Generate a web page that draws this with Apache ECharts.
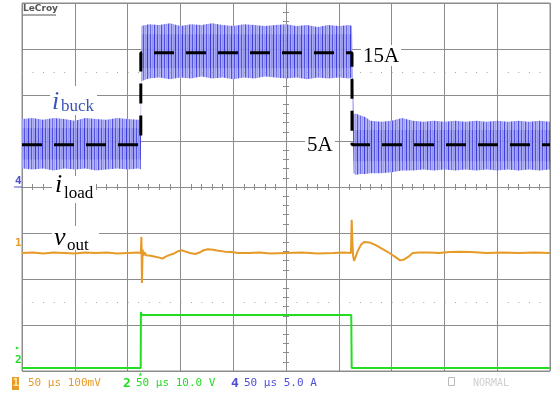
<!DOCTYPE html>
<html>
<head>
<meta charset="utf-8">
<script src="https://cdn.jsdelivr.net/npm/echarts@6/dist/echarts.min.js"></script>
<style>
  html, body { margin: 0; padding: 0; background: #fff; }
  #chart { width: 552px; height: 394px; }
</style>
</head>
<body>
<div id="chart"></div>
<script>
// time in µs relative to screen centre (50 µs/div)

// ch4 i_buck ripple envelope, A
const blueT = [-250, -240, -230, -220, -210, -200, -190, -180, -170, -160, -150, -140, -137.5,
  -137, -130, -120, -110, -100, -90, -80, -70, -60, -50, -40, -30, -20, -10, 0, 10, 20, 30, 40, 50, 60, 62.5,
  64, 66, 70, 75, 80, 90, 100, 110, 120, 130, 140, 150, 160, 170, 180, 190, 200, 210, 220, 230, 240, 250];
const blueHi = [7.8, 7.9, 7.7, 7.9, 7.8, 7.6, 7.9, 7.8, 7.7, 7.9, 7.8, 7.7, 7.8,
  17.9, 18.1, 18.0, 18.2, 17.9, 18.1, 18.0, 18.2, 18.0, 17.9, 18.1, 18.0, 17.9, 18.0, 18.1, 17.9, 18.0, 17.8, 18.0, 17.9, 18.0, 17.9,
  8.3, 8.4, 8.2, 8.0, 7.6, 7.5, 7.6, 7.9, 7.6, 7.5, 7.6, 7.5, 7.6, 7.5, 7.6, 7.5, 7.6, 7.5, 7.6, 7.5, 7.6, 7.5];
const blueLo = [2.4, 2.3, 2.4, 2.2, 2.4, 2.3, 2.4, 2.2, 2.3, 2.4, 2.3, 2.4, 2.3,
  11.9, 12.2, 12.3, 12.1, 12.3, 12.2, 12.4, 12.2, 12.3, 12.1, 12.3, 12.2, 12.4, 12.3, 12.2, 12.3, 12.1, 12.3, 12.2, 12.3, 12.2, 12.3,
  1.9, 1.7, 1.8, 1.8, 1.9, 1.9, 2.0, 2.2, 2.2, 2.3, 2.2, 2.3, 2.2, 2.3, 2.2, 2.3, 2.2, 2.3, 2.2, 2.3, 2.2, 2.3];
// denser middle of the ripple band, A
const coreT = [-250, -137.5, -137, 62.5, 64, 250];
const coreHi = [6.8, 6.8, 17.0, 17.0, 6.6, 6.6];
const coreLo = [3.4, 3.4, 13.3, 13.3, 3.2, 3.2];

// dashed reference (5A / 15A)
const refT = [-250, -137.5, -137.5, 62.5, 62.5, 250];
const refA = [5, 5, 15, 15, 5, 5];

// ch1 v_out, mV around the set point
const voutT = [-250, -240, -230, -220, -210, -200, -190, -180, -170, -160, -150, -140, -137.5,
  -136.9, -136.4, -135.8, -135, -134, -132.5, -131, -128, -124, -120, -117, -114, -110, -106, -102, -99,
  -95, -91, -86, -82, -78, -74, -69, -64, -58, -52, -45, -35, -25, -15, 0, 15, 30, 45, 55, 61.5,
  62.2, 62.8, 63.5, 64.4, 66, 68, 71, 74, 79, 85, 92, 98, 103, 108, 112, 116, 120, 126,
  135, 145, 155, 165, 175, 190, 205, 220, 235, 250];
const voutMV = [0, 1, -1, 1, 0, -1, 1, 0, 1, -1, 0, 1, 0,
  35, -65, 8, -6, 2, -5, -2, -6, -8, -10, -12, -8, -4, -1, 4, 6,
  3, 0, -2, 1, 6, 8, 7, 5, 3, 2, 0, 0, 1, -1, 0, 1, -1, 0, 1, 0,
  72, 30, -5, -17, -8, 5, 18, 24, 23, 17, 8, 0, -8, -16, -14, -8, 0, 1,
  1, 0, 2, 3, 2, 0, 1, 0, 1, 0];

// ch2 gate drive, V
const gateT = [-250, -137.6, -137.4, -136.8, -135.5, 61.8, 62.2, 250];
const gateV = [0, 0, 12.2, 11.5, 11.5, 11.5, 0, 0];

const pairs = (t, v) => t.map((x, i) => [x, v[i]]);

function stripes(cols) {
  const c = document.createElement('canvas');
  c.width = cols.length;
  c.height = 2;
  const g = c.getContext('2d');
  cols.forEach((col, i) => { g.fillStyle = col; g.fillRect(i, 0, 1, 2); });
  return c;
}
const outerFill = stripes(['rgba(70,70,228,0.95)', 'rgba(160,160,242,0.9)', 'rgba(175,175,246,0.9)',
  'rgba(100,100,234,0.95)', 'rgba(168,168,245,0.9)', 'rgba(150,150,240,0.9)', 'rgba(178,178,247,0.9)']);
const coreFill = stripes(['rgba(40,40,210,0.45)', 'rgba(40,40,210,0.05)', 'rgba(40,40,210,0.15)',
  'rgba(40,40,210,0.4)', 'rgba(40,40,210,0.05)', 'rgba(40,40,210,0.1)', 'rgba(40,40,210,0.2)']);

// band polygon between two envelopes, through the axis scales
const band = (t, hi, lo, fill) => ({
  type: 'custom', yAxisIndex: 2, silent: true, data: [[t[0], lo[0]]],
  encode: { x: 0, y: 1 },
  renderItem: (params, api) => {
    const top = t.map((x, i) => api.coord([x, hi[i]]));
    const bot = t.map((x, i) => api.coord([x, lo[i]])).reverse();
    return { type: 'polygon', shape: { points: top.concat(bot) }, style: { fill: { image: fill, repeat: 'repeat' } } };
  }
});

const gridColor = '#8c8c8c';
const orange = '#e69a28';
const green = '#22dd22';
const blue = '#4f4fd6';

const centerAxis = (inside, split) => ({
  type: 'value',
  min: -4, max: 4, interval: 1,
  position: 'left',
  axisLine: { onZero: true, onZeroAxisIndex: 0, lineStyle: { color: gridColor, width: 1 } },
  axisTick: { show: true, inside, length: 3, lineStyle: { color: gridColor } },
  minorTick: { show: true, splitNumber: 5, length: 3, lineStyle: { color: gridColor } },
  axisLabel: { show: false },
  splitLine: { show: split, lineStyle: { color: gridColor, width: 1 } }
});
const timeAxis = (inside, split) => ({
  type: 'value',
  min: -250, max: 250, interval: 50,
  position: 'bottom',
  axisLine: { onZero: true, onZeroAxisIndex: 0, lineStyle: { color: gridColor, width: 1 } },
  axisTick: { show: true, inside, length: 3, lineStyle: { color: gridColor } },
  minorTick: { show: true, splitNumber: 5, length: 3, lineStyle: { color: gridColor } },
  axisLabel: { show: false },
  splitLine: { show: split, lineStyle: { color: gridColor, width: 1 } }
});
const hiddenAxis = (min, max) => ({ type: 'value', min, max, show: false, position: 'left',
  axisLine: { onZero: false }, splitLine: { show: false } });

const serif = '"Liberation Serif", "Times New Roman", serif';
const mono = '"DejaVu Sans Mono", monospace';
const txt = (x, y, text, font, fill, extra) => ({
  type: 'text', x, y, z: 100,
  style: Object.assign({ text, font, fill, verticalAlign: 'middle', align: 'left' }, extra || {})
});
const box = (x, y, w, h, fill) => ({ type: 'rect', z: 99, shape: { x, y, width: w, height: h }, style: { fill } });

const chart = echarts.init(document.getElementById('chart'), null, { renderer: 'canvas' });
chart.setOption({
  animation: false,
  backgroundColor: '#fff',
  grid: { left: 22, top: 3, right: 2, bottom: 23, show: true, borderColor: gridColor, borderWidth: 1 },
  xAxis: [timeAxis(true, true), timeAxis(false, false)],
  yAxis: [
    centerAxis(true, true),
    centerAxis(false, false),
    hiddenAxis(-19.6, 20.4),   // ch4, 5 A/div
    hiddenAxis(-256.5, 543.5), // ch1, 100 mV/div
    hiddenAxis(-0.65, 79.35)   // ch2, 10 V/div
  ],
  series: [
    {
      type: 'line', yAxisIndex: 0, data: [], silent: true,
      markLine: {
        silent: true, symbol: 'none', label: { show: false },
        lineStyle: { color: '#a0a0a0', type: [1, 9.56], width: 1 },
        data: [{ yAxis: 2.5 }, { yAxis: -2.5 }]
      }
    },
    band(blueT, blueHi, blueLo, outerFill),
    band(coreT, coreHi, coreLo, coreFill),
    { type: 'line', yAxisIndex: 2, symbol: 'none', silent: true, data: pairs(refT, refA),
      lineStyle: { color: '#000', width: 3, type: [20, 12] } },
    { type: 'line', yAxisIndex: 3, symbol: 'none', silent: true, data: pairs(voutT, voutMV),
      lineStyle: { color: orange, width: 2 } },
    { type: 'line', yAxisIndex: 4, symbol: 'none', silent: true, data: pairs(gateT, gateV),
      lineStyle: { color: green, width: 2 } }
  ],
  graphic: [
    // labels on white patches
    box(50, 86, 47, 29, '#fff'),
    txt(52, 102, 'i', 'italic 26px ' + serif, '#3a54b4'),
    txt(61, 107, 'buck', '17px ' + serif, '#3a54b4'),
    box(52, 176, 44, 27, '#fff'),
    txt(55, 185, 'i', 'italic 26px ' + serif, '#000'),
    txt(64, 193.5, 'load', '17px ' + serif, '#000'),
    box(52, 226, 47, 24, '#fff'),
    txt(54, 238, 'v', 'italic 26px ' + serif, '#000'),
    txt(67, 245.5, 'out', '17px ' + serif, '#000'),
    box(361, 45, 40, 21, '#fff'),
    txt(363, 56, '15A', '21px ' + serif, '#000'),
    box(305, 134, 30, 21, '#fff'),
    txt(307, 145, '5A', '21px ' + serif, '#000'),
    // scope decorations
    txt(23, 9, 'LeCroy', 'bold 9px "DejaVu Sans"', '#555'),
    { type: 'line', z: 100, shape: { x1: 23, y1: 15, x2: 56, y2: 15 }, style: { stroke: '#555', lineWidth: 1 } },
    txt(15, 181, '4', 'bold 11px ' + mono, blue),
    { type: 'line', z: 100, shape: { x1: 14, y1: 187, x2: 22, y2: 187 }, style: { stroke: blue, lineWidth: 1 } },
    txt(15, 243, '1', 'bold 11px ' + mono, orange),
    txt(15, 348, '▸', '8px ' + mono, green),
    txt(15, 360, '2', 'bold 11px ' + mono, green),
    txt(138, 374, '▴', '8px ' + mono, green),
    // bottom status line
    box(12, 377, 7, 13, orange),
    txt(12.5, 383.5, '1', 'bold 11px ' + mono, '#ffe9a8'),
    txt(28, 383.5, '50 µs 100mV', '11px ' + mono, orange),
    txt(123, 383.5, '2', 'bold 13px ' + mono, green),
    txt(136, 383.5, '50 µs 10.0 V', '11px ' + mono, green),
    txt(231, 383.5, '4', 'bold 13px ' + mono, blue),
    txt(244, 383.5, '50 µs 5.0 A', '11px ' + mono, blue),
    { type: 'rect', z: 100, shape: { x: 448.5, y: 377.5, width: 6, height: 8 }, style: { fill: 'none', stroke: '#bbb', lineWidth: 1 } },
    txt(473, 383.5, 'NORMAL', '10px ' + mono, '#cfcfcf')
  ]
});
</script>
</body>
</html>
